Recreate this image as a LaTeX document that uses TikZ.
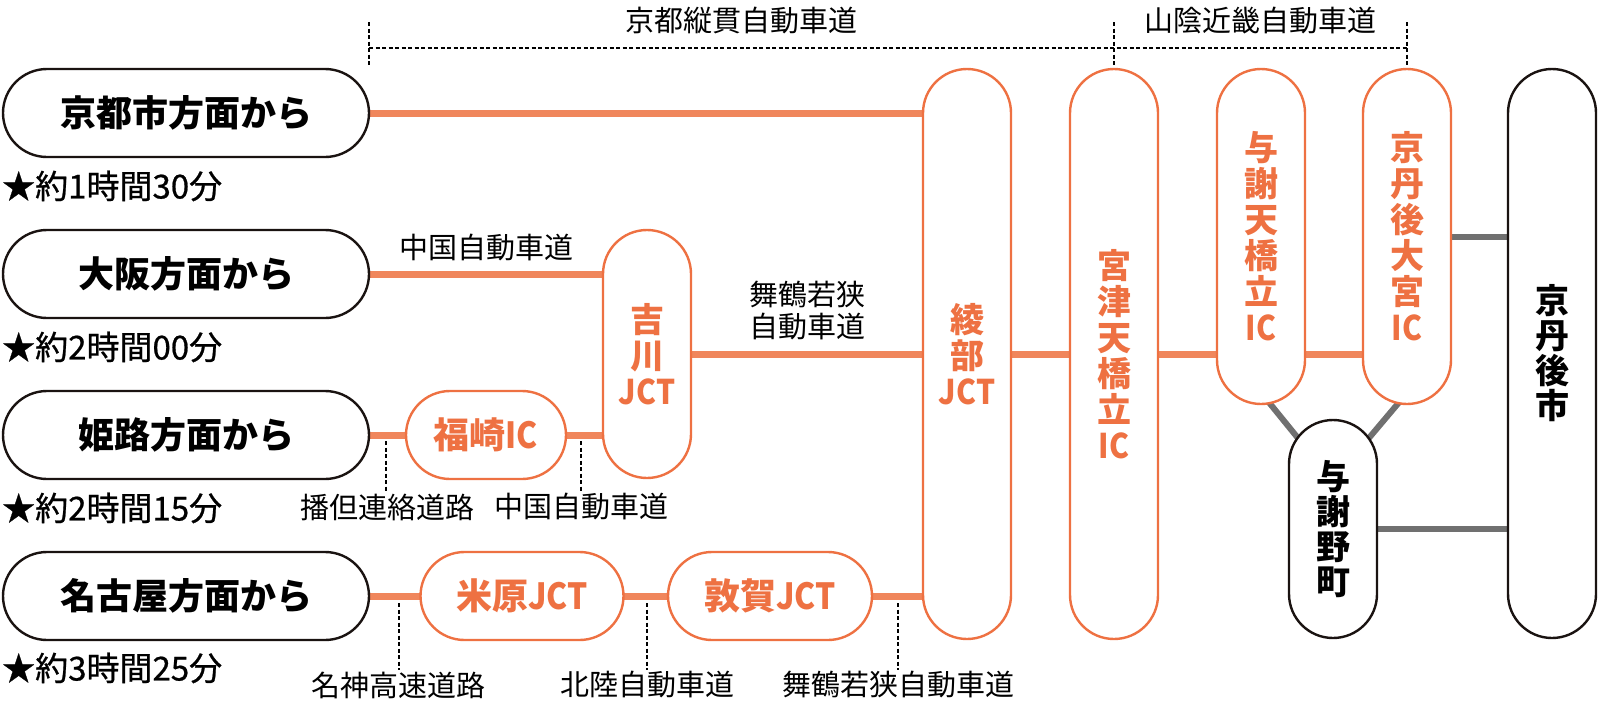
\documentclass[tikz,border=0pt]{standalone}
\usepackage{fontspec}
\setmainfont{Noto Sans CJK JP}
\newfontfamily\medfont{Noto Sans CJK JP}[FakeBold=0.7]
\usetikzlibrary{backgrounds,calc}
\definecolor{ob}{HTML}{EE7142}
\definecolor{ol}{HTML}{F0865C}
\definecolor{gr}{HTML}{707070}
\definecolor{bk}{HTML}{1A1311}
\newcommand{\cnd}[1]{\scalebox{0.88}[1]{#1}}
\begin{document}
\begin{tikzpicture}[x=1pt,y=-1pt,
  pill/.style={draw=bk, line width=2.4pt, fill=white, rounded corners=44pt, inner sep=0pt, outer sep=0pt,
    minimum height=88pt, minimum width=366pt, text=black, font=\fontsize{36}{40}\selectfont\bfseries},
  opill/.style={draw=ob, line width=2.4pt, fill=white, rounded corners=44pt, inner sep=0pt, outer sep=0pt,
    minimum height=88pt, text=ob, font=\fontsize{36}{40}\selectfont\bfseries},
  vo/.style={draw=ob, line width=2.4pt, fill=white, rounded corners=44pt, inner sep=0pt, outer sep=0pt,
    minimum width=88pt, minimum height=570pt, align=center, text=ob, font=\fontsize{34}{36}\selectfont\bfseries},
  vb/.style={draw=bk, line width=2.4pt, fill=white, rounded corners=44pt, inner sep=0pt, outer sep=0pt,
    minimum width=88pt, align=center, text=black, font=\fontsize{34}{35}\selectfont\bfseries},
  road/.style={line width=7pt, draw=ol},
  link/.style={line width=6pt, draw=gr},
  leader/.style={line width=1.4pt, draw=black, dash pattern=on 4pt off 2.5pt},
  lab/.style={inner sep=1pt, font=\fontsize{29}{32}\selectfont, text=black},
  timelab/.style={inner sep=0pt, anchor=west, font=\fontsize{33}{35}\medfont, text=black}
]
\useasboundingbox (0,0) rectangle (1600,704);

% origin nodes
\node[pill] (kyoto) at (186,113) {京都市方面から};
\node[pill] (osaka) at (186,274) {大阪方面から};
\node[pill] (himeji) at (186,435) {姫路方面から};
\node[pill] (nagoya) at (186,596) {名古屋方面から};

\node[timelab] (t1) at (2,186) {★約1時間30分};
\node[timelab] (t2) at (2,347) {★約2時間00分};
\node[timelab] (t3) at (2,508) {★約2時間15分};
\node[timelab] (t4) at (2,668) {★約3時間25分};

% junctions
\node[opill, minimum width=160pt] (fukusaki) at (486,435) {福崎\cnd{IC}};
\node[opill, minimum width=88pt, minimum height=248pt, align=center, font=\fontsize{34}{36}\selectfont\bfseries] (yoshikawa) at (647,354) {吉\\川\\\cnd{JCT}};
\node[opill, minimum width=203pt] (maibara) at (522,596) {米原\cnd{JCT}};
\node[opill, minimum width=204pt] (tsuruga) at (770,596) {敦賀\cnd{JCT}};
\node[vo] (ayabe) at (967,354) {綾\\部\\\cnd{JCT}};
\node[vo] (miyazu) at (1114,354) {宮\\津\\天\\橋\\立\\\cnd{IC}};
\node[vo, minimum height=335pt] (yosaic) at (1261,236.5) {与\\謝\\天\\橋\\立\\\cnd{IC}};
\node[vo, minimum height=335pt] (daimiya) at (1407,236.5) {京\\丹\\後\\大\\宮\\\cnd{IC}};
\node[vb, minimum height=569pt] (city) at (1552,353.5) {京\\丹\\後\\市};
\node[vb, minimum height=218pt] (yosano) at (1333,529) {与\\謝\\野\\町};

% connectors
\begin{pgfonlayer}{background}
\draw[road] (kyoto.east) -- (ayabe.west |- kyoto.east);
\draw[road] (osaka.east) -- (yoshikawa.west |- osaka.east);
\draw[road] (himeji.east) -- (fukusaki.west);
\draw[road] (fukusaki.east) -- (yoshikawa.west |- fukusaki.east);
\draw[road] (yoshikawa.east) -- (ayabe.west |- yoshikawa.east);
\draw[road] (nagoya.east) -- (maibara.west);
\draw[road] (maibara.east) -- (tsuruga.west);
\draw[road] (tsuruga.east) -- (ayabe.west |- tsuruga.east);
\draw[road] (ayabe.east) -- (miyazu.west);
\draw[road] (miyazu.east) -- (yosaic.west |- miyazu.east);
\draw[road] (yosaic.east |- miyazu.east) -- (daimiya.west |- miyazu.east);
\draw[link] (daimiya.east) -- (city.west |- daimiya.east);
\draw[link] (yosano.east) -- (city.west |- yosano.east);
\draw[link] ($(yosaic.south)+(6,-4)$) -- ($(yosano.north)+(-14,44)$);
\draw[link] ($(daimiya.south)+(-6,-4)$) -- ($(yosano.north)+(14,44)$);
\end{pgfonlayer}

% road labels
\node[lab] (lchu1) at (486,248) {中国自動車道};
\node[lab, align=center] (lmai1) at (807,311) {舞鶴若狭\\自動車道};
\node[lab] (lban) at (387,507) {播但連絡道路};
\node[lab] (lchu2) at (581,507) {中国自動車道};
\node[lab] (lmei) at (398,685) {名神高速道路};
\node[lab] (lhok) at (647,685) {北陸自動車道};
\node[lab] (lmai2) at (898,685) {舞鶴若狭自動車道};
\node[lab] (lkj) at (741.5,21) {京都縦貫自動車道};
\node[lab] (lsk) at (1260,21) {山陰近畿自動車道};

% leaders
\coordinate (d1) at (386,441);
\coordinate (d2) at (581,441);
\coordinate (d3) at (399,603);
\coordinate (d4) at (647,603);
\coordinate (d5) at (898,603);
\draw[leader] (d1) -- (d1 |- lban.north);
\draw[leader] (d2) -- (d2 |- lchu2.north);
\draw[leader] (d3) -- (d3 |- lmei.north);
\draw[leader] (d4) -- (d4 |- lhok.north);
\draw[leader] (d5) -- (d5 |- lmai2.north);

% top brackets
\coordinate (b1) at (kyoto.east |- 0,48);
\coordinate (b2) at (miyazu.north |- 0,48);
\coordinate (b3) at (daimiya.north |- 0,48);
\draw[leader] (b1) -- (b3);
\draw[leader] ($(b1)+(0,-26)$) -- ($(b1)+(0,17)$);
\draw[leader] ($(b2)+(0,-26)$) -- ($(b2)+(0,17)$);
\draw[leader] ($(b3)+(0,-26)$) -- ($(b3)+(0,17)$);
\end{tikzpicture}
\end{document}
